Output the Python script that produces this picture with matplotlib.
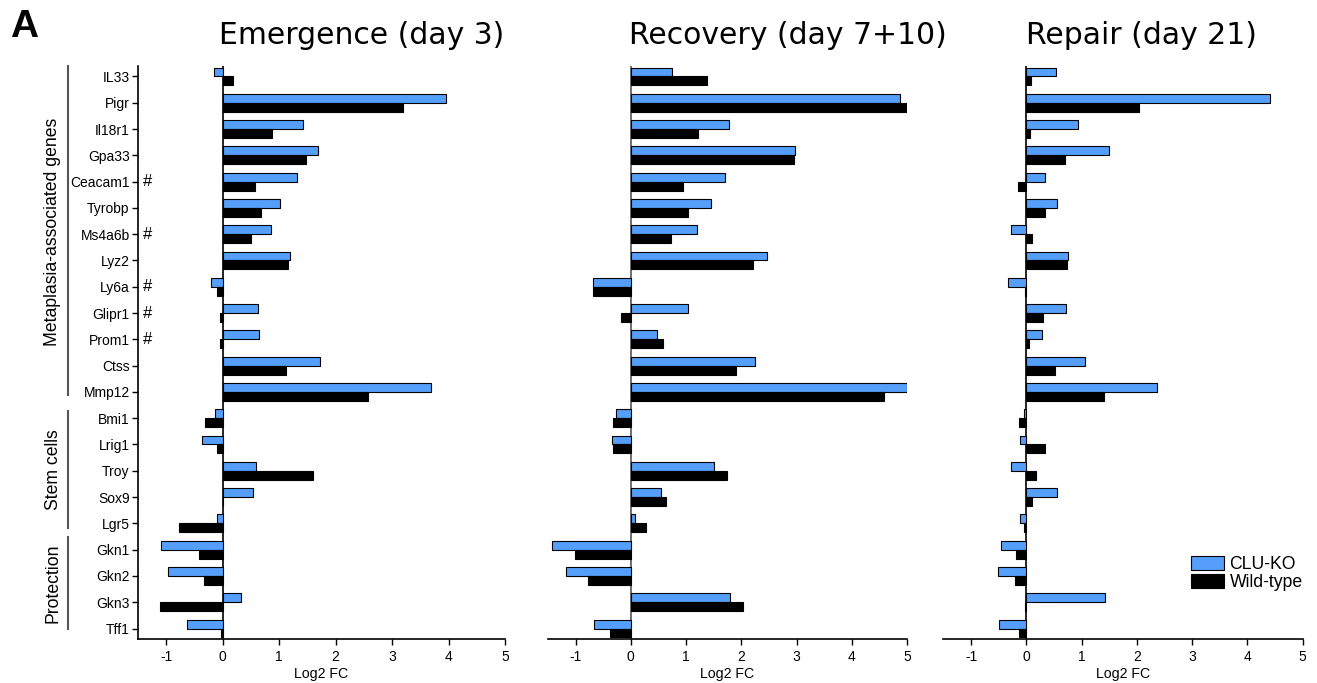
import matplotlib.pyplot as plt
import numpy as np
from matplotlib.patches import Patch

# Genes, top to bottom
genes = ['IL33', 'Pigr', 'Il18r1', 'Gpa33', 'Ceacam1', 'Tyrobp', 'Ms4a6b', 'Lyz2',
         'Ly6a', 'Glipr1', 'Prom1', 'Ctss', 'Mmp12',
         'Bmi1', 'Lrig1', 'Troy', 'Sox9', 'Lgr5',
         'Gkn1', 'Gkn2', 'Gkn3', 'Tff1']
hash_genes = ['Ceacam1', 'Ms4a6b', 'Ly6a', 'Glipr1', 'Prom1']

titles = ['Emergence (day 3)', 'Recovery (day 7+10)', 'Repair (day 21)']

# Log2 FC, CLU-KO and wild-type per time point
ko_day3 = [-0.16, 3.95, 1.42, 1.68, 1.32, 1.01, 0.85, 1.20, -0.21, 0.62, 0.65, 1.73, 3.68,
           -0.14, -0.37, 0.59, 0.53, -0.10, -1.10, -0.97, 0.32, -0.63]
wt_day3 = [0.18, 3.19, 0.87, 1.47, 0.57, 0.68, 0.50, 1.16, -0.11, -0.04, -0.05, 1.12, 2.57,
           -0.31, -0.10, 1.59, 0.01, -0.77, -0.42, -0.34, -1.11, -0.03]

ko_day7 = [0.75, 4.87, 1.78, 2.97, 1.71, 1.46, 1.20, 2.46, -0.69, 1.04, 0.48, 2.24, 5.0,
           -0.27, -0.35, 1.50, 0.54, 0.08, -1.43, -1.18, 1.79, -0.66]
wt_day7 = [1.37, 5.0, 1.21, 2.95, 0.95, 1.04, 0.73, 2.22, -0.69, -0.17, 0.58, 1.91, 4.58,
           -0.33, -0.32, 1.74, 0.64, 0.27, -1.02, -0.78, 2.03, -0.37]

ko_day21 = [0.54, 4.41, 0.94, 1.49, 0.34, 0.56, -0.27, 0.76, -0.34, 0.72, 0.29, 1.07, 2.37,
            -0.04, -0.11, -0.28, 0.56, -0.11, -0.45, -0.51, 1.43, -0.49]
wt_day21 = [0.09, 2.04, 0.07, 0.70, -0.16, 0.33, 0.11, 0.74, -0.02, 0.31, 0.05, 0.52, 1.40,
            -0.14, 0.34, 0.17, 0.11, -0.05, -0.18, -0.21, -0.02, -0.13]

group_names = ['Metaplasia-associated genes', 'Stem cells', 'Protection']

blue = '#559FFB'
sans = ['Liberation Sans', 'DejaVu Sans']
W, H = 1317, 683

fig = plt.figure(figsize=(W / 100, H / 100), dpi=100)
lefts = [0.1048, 0.4161, 0.7164]
widths = [0.2787, 0.2726, 0.2726]
bottom, height = 0.0644, 0.839
title_x = [362, 788, 1141]

y = np.arange(len(genes))
h = 0.34
data = [(ko_day3, wt_day3), (ko_day7, wt_day7), (ko_day21, wt_day21)]

axes = []
for i, (ko, wt) in enumerate(data):
    ax = fig.add_axes([lefts[i], bottom, widths[i], height])
    ax.barh(y - h / 2, ko, height=h, color=blue, edgecolor='black', linewidth=0.8)
    ax.barh(y + h / 2, wt, height=h, color='black', edgecolor='black', linewidth=0.8)
    ax.axvline(0, color='black' if i != 1 else '#555555', linewidth=1.2, zorder=0)
    ax.set_xlim(-1.5, 5)
    ax.set_ylim(len(genes) - 0.6, -0.4)
    ax.set_xticks([-1, 0, 1, 2, 3, 4, 5])
    ax.set_xticklabels(['-1', '0', '1', '2', '3', '4', '5'], family=sans, fontsize=10)
    ax.set_xlabel('Log2 FC', family=sans, fontsize=10.2, labelpad=2)
    ax.tick_params(axis='x', direction='out', length=4, width=1, pad=4)
    for s in ['top', 'right']:
        ax.spines[s].set_visible(False)
    ax.spines['bottom'].set_linewidth(1.2)
    if i == 0:
        ax.set_yticks(y)
        ax.set_yticklabels(genes, family=sans, fontsize=10)
        ax.tick_params(axis='y', direction='out', length=4, width=1, pad=2)
        ax.spines['left'].set_linewidth(1.2)
    else:
        ax.set_yticks([])
        ax.spines['left'].set_visible(False)
    fig.text(title_x[i] / W, 1 - 36 / H, titles[i], fontsize=21.5, family='DejaVu Sans',
             ha='center', va='center')
    axes.append(ax)

# "#" markers next to gene names
ax0 = axes[0]
for g in hash_genes:
    k = genes.index(g)
    ax0.text(-1.34, k, '#', fontsize=12, family=sans, va='center', ha='center',
             clip_on=False)

# group brackets (pixel spans) and labels
spans = [(66, 395), (411, 528), (537, 629)]
label_y = [232, 470, 583]
for name, (t, b), ly in zip(group_names, spans, label_y):
    fig.add_artist(plt.Line2D([68 / W, 68 / W], [1 - b / H, 1 - t / H], color='#555555',
                              linewidth=1.5, transform=fig.transFigure))
    fig.text(53 / W, 1 - ly / H, name, rotation=90, ha='center', va='center',
             fontsize=12.7, family=sans)

fig.text(10 / W, 1 - 27 / H, 'A', fontsize=28, fontweight='bold', family=sans,
         ha='left', va='center')

handles = [Patch(facecolor=blue, edgecolor='black', linewidth=0.8, label='CLU-KO'),
           Patch(facecolor='black', edgecolor='black', linewidth=0.8, label='Wild-type')]
axes[2].legend(handles=handles, loc='lower right', bbox_to_anchor=(1.03, 0.065),
               frameon=False, prop={'family': sans, 'size': 12.7},
               handlelength=1.9, handleheight=0.8, handletextpad=0.3, labelspacing=0.05,
               borderpad=0.1)

fig.savefig('out.png', dpi=100)
